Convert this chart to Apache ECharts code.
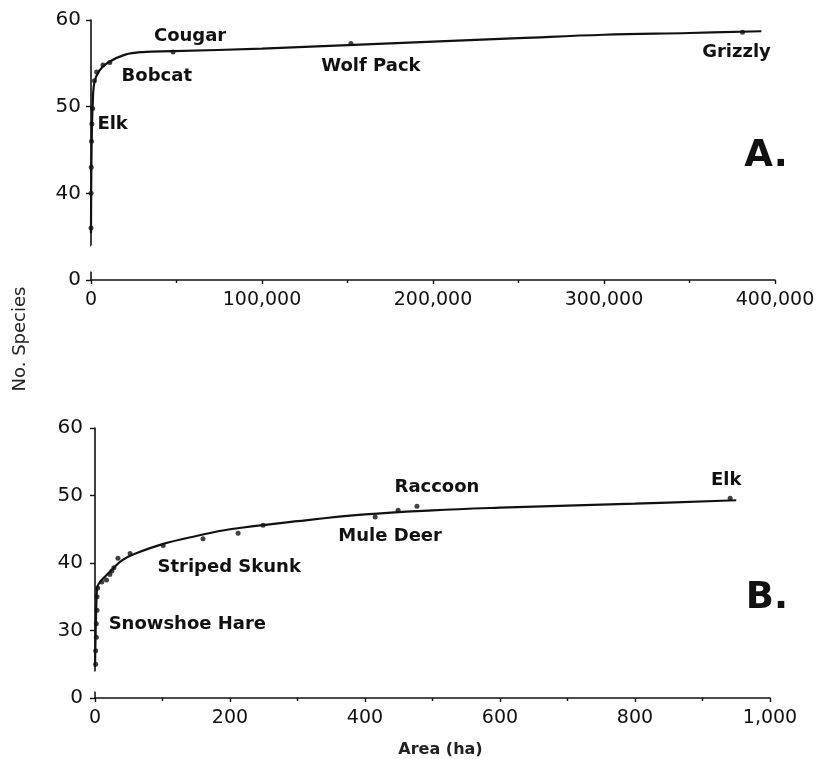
<!DOCTYPE html>
<html><head><meta charset="utf-8">
<script src="https://cdn.jsdelivr.net/npm/echarts@6/dist/echarts.min.js"></script>
<style>html,body{margin:0;padding:0;background:#fff}#c{width:824px;height:759px}</style>
</head><body><div id="c"></div>
<script>
// ---------- Panel A (area in ha, up to 400,000) ----------
const xTicksA = [0, 100000, 200000, 300000, 400000];
const yTicksA = [0, 40, 50, 60];
const curveA = [
  [0, 35.4], [50, 38], [200, 43], [500, 47], [950, 50], [2000, 52.8], [5000, 54.2],
  [10000, 55.1], [20000, 56.0], [30000, 56.3], [48000, 56.4], [100000, 56.7],
  [150000, 57.1], [200000, 57.5], [250000, 57.9], [300000, 58.3], [350000, 58.5], [392000, 58.7]
];
const pointsA = [
  [20, 36, ''], [60, 40, ''], [150, 43, ''], [300, 46, ''], [500, 48, ''],
  [950, 49.8, 'Elk'], [2000, 53.0, ''], [3300, 54.0, ''], [7000, 54.8, ''],
  [11000, 55.1, 'Bobcat'], [48000, 56.3, 'Cougar'], [152000, 57.3, 'Wolf Pack'],
  [381000, 58.6, 'Grizzly']
];

// ---------- Panel B (area in ha, up to 1,000) ----------
const xTicksB = [0, 200, 400, 600, 800, 1000];
const yTicksB = [0, 30, 40, 50, 60];
const curveB = [
  [0, 24.6], [1, 30], [2, 34], [3, 36.2], [6, 37], [15, 38], [25, 39], [40, 40.4],
  [60, 41.4], [100, 42.8], [150, 44.0], [200, 45.0], [300, 46.2], [400, 47.2],
  [500, 47.8], [600, 48.2], [700, 48.5], [800, 48.8], [950, 49.3]
];
const pointsB = [
  [1, 25, ''], [1, 27, ''], [2, 29, ''], [2, 31, 'Snowshoe Hare'], [3, 33, ''], [3, 35, ''],
  [4, 36.3, ''], [10, 37.2, ''], [17, 37.5, ''], [22, 38.3, ''], [25, 38.8, ''],
  [28, 39.3, ''], [34, 40.7, ''], [52, 41.4, ''], [101, 42.6, 'Striped Skunk'],
  [160, 43.6, ''], [212, 44.4, ''], [249, 45.6, ''], [415, 46.8, 'Mule Deer'],
  [449, 47.8, ''], [477, 48.4, 'Raccoon'], [941, 49.6, 'Elk']
];

// ---------- styling (label offsets from the marked point to the label centre) ----------
const labelOffsetsA = { 'Elk': [20, 17], 'Bobcat': [47, 15], 'Cougar': [17, -14], 'Wolf Pack': [20, 24], 'Grizzly': [-6, 22] };
const labelOffsetsB = { 'Snowshoe Hare': [91, 2], 'Striped Skunk': [66, 23], 'Mule Deer': [15, 21], 'Raccoon': [20, -17], 'Elk': [-4, -16] };

const FONT = 'DejaVu Sans';
const INK = '#111111';

function pts(arr, offs) {
  return arr.map(p => {
    const o = offs[p[2]] || [0, 0];
    return {
      value: [p[0], p[1]],
      name: p[2],
      label: p[2] ? { show: true, formatter: p[2], position: 'top', distance: 0,
        offset: [o[0], o[1] + 10], align: 'center', verticalAlign: 'bottom',
        fontFamily: FONT, fontWeight: 'bold', fontSize: 18, color: INK, opacity: 1,
        textBorderWidth: 0 } : { show: false }
    };
  });
}

function xAxis(grid, max, interval, ticks, fmt) {
  return {
    gridIndex: grid, type: 'value', min: 0, max: max, interval: interval,
    axisLine: { show: true, onZero: false, lineStyle: { color: INK, width: 1.6 } },
    axisTick: { show: true, length: 4, inside: false, lineStyle: { color: INK, width: 1.4 } },
    minorTick: { show: true, splitNumber: 2, length: 3, lineStyle: { color: INK, width: 1.4 } },
    axisLabel: { customValues: ticks, formatter: fmt, fontFamily: FONT, fontSize: 19, color: INK, margin: 11 },
    splitLine: { show: false }
  };
}
function yAxis(grid, brk, ticks, margin) {
  return {
    gridIndex: grid, type: 'value', min: 0, max: 60, interval: 10,
    breaks: [brk],
    breakArea: { show: true, itemStyle: { color: '#fff', borderColor: '#fff', borderWidth: 0, opacity: 1 }, zigzagAmplitude: 2 },
    axisLine: { show: true, lineStyle: { color: INK, width: 1.6 } },
    axisTick: { show: true, length: 5, customValues: ticks, lineStyle: { color: INK, width: 1.4 } },
    axisLabel: { customValues: ticks, fontFamily: FONT, fontSize: 20, color: INK, margin: margin },
    splitLine: { show: false }
  };
}

const chart = echarts.init(document.getElementById('c'), null, { renderer: 'canvas' });
chart.setOption({
  backgroundColor: '#fff',
  animation: false,
  grid: [
    { left: 91, top: 20, width: 684, height: 260 },
    { left: 95, top: 428, width: 675, height: 270 }
  ],
  xAxis: [
    xAxis(0, 400000, 100000, xTicksA, v => v.toLocaleString('en-US')),
    Object.assign(xAxis(1, 1000, 200, xTicksB, v => v.toLocaleString('en-US')), {
      name: 'Area (ha)', nameLocation: 'middle', nameGap: 44,
      nameTextStyle: { fontFamily: FONT, fontSize: 16, fontWeight: 'bold', color: '#222', padding: [0, 0, 0, 16] }
    })
  ],
  yAxis: [
    yAxis(0, { start: 1, end: 34, gap: 3 }, yTicksA, 10),
    yAxis(1, { start: 1, end: 24, gap: 3 }, yTicksB, 12)
  ],
  graphic: [
    { type: 'text', x: 20, y: 339, rotation: Math.PI / 2,
      style: { text: 'No. Species', fontFamily: FONT, fontSize: 18, fill: '#222', textAlign: 'center', textVerticalAlign: 'middle' } },
    { type: 'text', x: 766, y: 156, style: { text: 'A.', fontFamily: FONT, fontSize: 37, fontWeight: 'bold', fill: INK, textAlign: 'center', textVerticalAlign: 'middle' } },
    { type: 'text', x: 767, y: 598, style: { text: 'B.', fontFamily: FONT, fontSize: 37, fontWeight: 'bold', fill: INK, textAlign: 'center', textVerticalAlign: 'middle' } }
  ],
  series: [
    { type: 'line', xAxisIndex: 0, yAxisIndex: 0, data: curveA, smooth: 0.4, showSymbol: false,
      lineStyle: { color: INK, width: 2.2 }, z: 2 },
    { type: 'scatter', xAxisIndex: 0, yAxisIndex: 0, data: pts(pointsA, labelOffsetsA), symbolSize: 5,
      itemStyle: { color: INK }, z: 3 },
    { type: 'line', xAxisIndex: 1, yAxisIndex: 1, data: curveB, smooth: 0.4, showSymbol: false,
      lineStyle: { color: INK, width: 2.2 }, z: 2 },
    { type: 'scatter', xAxisIndex: 1, yAxisIndex: 1, data: pts(pointsB, labelOffsetsB), symbolSize: 5,
      itemStyle: { color: INK }, z: 3 }
  ]
});
</script>
</body></html>
